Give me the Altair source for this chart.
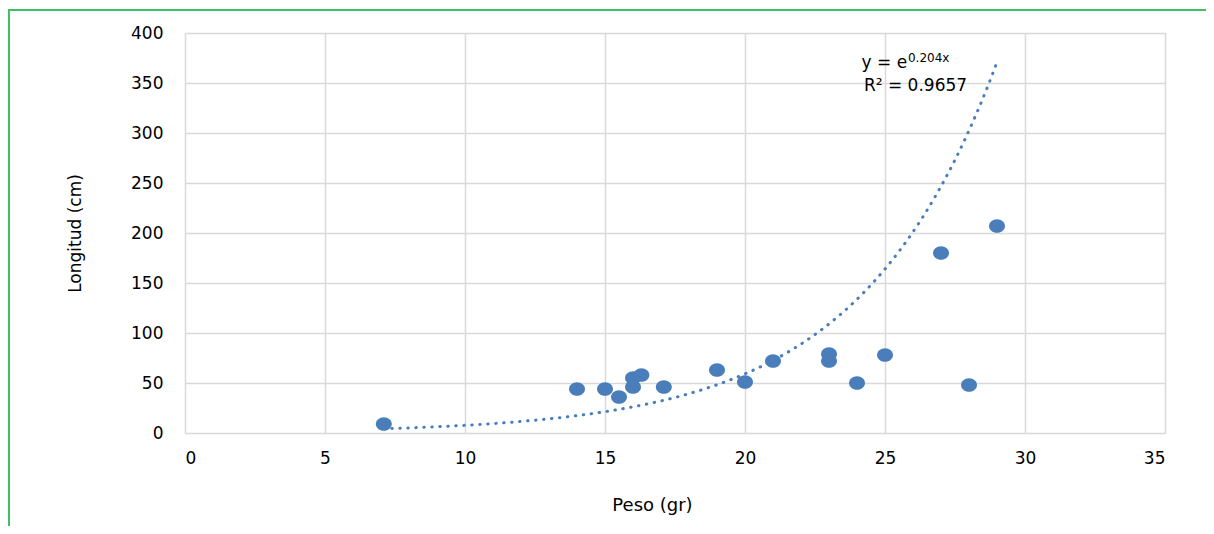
import altair as alt
import pandas as pd

# Data
peso = [7.1, 14, 15, 15.5, 16, 16, 16.3, 17.1, 19, 20, 21, 23, 23, 24, 25, 27, 28, 29]
longitud = [9, 44, 44, 36, 55, 46, 58, 46, 63, 51, 72, 79, 72, 50, 78, 180, 48, 207]

# Trendline as printed on the chart: y = e^(0.204x)
trend_coef = 0.204
trend_start = 7.1
trend_stop = 29.0

x_ticks = [0, 5, 10, 15, 20, 25, 30, 35]
y_ticks = [0, 50, 100, 150, 200, 250, 300, 350, 400]

eq_main = "y = e"
eq_sup = "0.204x"
eq_r2 = "R² = 0.9657"

FONT = "DejaVu Sans"
BLUE = "#4A7EBB"
GRID = "#d9d9d9"

df = pd.DataFrame({"peso": peso, "longitud": longitud})

xs = alt.Scale(domain=[0, 35], nice=False)
ys = alt.Scale(domain=[0, 400], nice=False)

x_axis = alt.Axis(values=x_ticks, title="Peso (gr)", grid=True, gridColor=GRID, gridWidth=1.5,
                  domain=False, ticks=False, labelFont=FONT, labelFontSize=17, labelColor="#000",
                  labelPadding=17, titleFont=FONT, titleFontSize=18, titleFontWeight="normal",
                  titleColor="#000", titleX=467, titleY=72, titleAlign="center", titleBaseline="middle")
y_axis = alt.Axis(values=y_ticks, title="Longitud (cm)", grid=True, gridColor=GRID, gridWidth=1.5,
                  domain=False, ticks=False, labelFont=FONT, labelFontSize=17, labelColor="#000",
                  labelPadding=22, titleFont=FONT, titleFontSize=17, titleFontWeight="normal",
                  titleColor="#000", titleX=-110, titleY=200, titleAngle=270,
                  titleAlign="center", titleBaseline="middle")

points = alt.Chart(df).mark_point(
    shape="M-1,0A1,0.85,0,1,1,1,0A1,0.85,0,1,1,-1,0Z",
    filled=True, size=256, color=BLUE, opacity=1, strokeWidth=0
).encode(
    x=alt.X("peso:Q", scale=xs, axis=x_axis),
    y=alt.Y("longitud:Q", scale=ys, axis=y_axis),
)

trend = alt.Chart(alt.sequence(trend_start, trend_stop + 0.001, 0.05, as_="t")).transform_calculate(
    yv=f"exp({trend_coef} * datum.t)"
).mark_line(
    color=BLUE, strokeWidth=3, strokeDash=[0.5, 7.5], strokeCap="round"
).encode(
    x=alt.X("t:Q", scale=xs),
    y=alt.Y("yv:Q", scale=ys),
)

ann = pd.DataFrame({
    "x": [25.79, 25.82, 26.09],
    "y": [365, 371, 342],
    "txt": [eq_main, eq_sup, eq_r2],
})

t_main = alt.Chart(ann.iloc[[0]]).mark_text(
    font=FONT, fontSize=17, align="right", baseline="alphabetic", color="#000"
).encode(x=alt.X("x:Q", scale=xs), y=alt.Y("y:Q", scale=ys), text="txt:N")
t_sup = alt.Chart(ann.iloc[[1]]).mark_text(
    font=FONT, fontSize=12, align="left", baseline="alphabetic", color="#000"
).encode(x=alt.X("x:Q", scale=xs), y=alt.Y("y:Q", scale=ys), text="txt:N")
t_r2 = alt.Chart(ann.iloc[[2]]).mark_text(
    font=FONT, fontSize=17, align="center", baseline="alphabetic", color="#000"
).encode(x=alt.X("x:Q", scale=xs), y=alt.Y("y:Q", scale=ys), text="txt:N")

# decorative frame (green top/left border of the reference picture)
frame_top = alt.Chart(pd.DataFrame({"a": [0]})).mark_rule(color="#3CC062", strokeWidth=2).encode(
    x=alt.value(-176), x2=alt.value(1021), y=alt.value(-23))
frame_left = alt.Chart(pd.DataFrame({"a": [0]})).mark_rule(color="#3CC062", strokeWidth=2).encode(
    x=alt.value(-176), y=alt.value(-24), y2=alt.value(493))

chart = alt.layer(trend, points, t_main, t_sup, t_r2, frame_top, frame_left).properties(
    width=980, height=400,
    autosize=alt.AutoSizeParams(type="none"),
    padding={"left": 177, "top": 25, "right": 41, "bottom": 93},
).configure_view(stroke=None).configure(background="white")

chart.save("out.html", embed_options={"renderer": "svg", "actions": False})
